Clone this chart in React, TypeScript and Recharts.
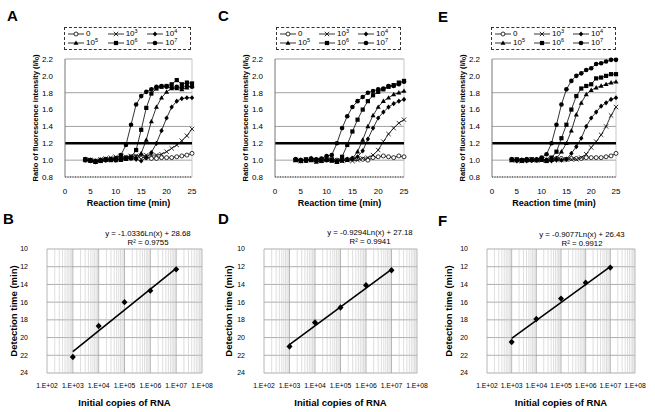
import React from 'react';
import {
  LineChart,
  Line,
  XAxis,
  YAxis,
  CartesianGrid,
  ReferenceLine,
  ComposedChart,
  Scatter,
} from 'recharts';

const FONT = '"Liberation Sans", Arial, Helvetica, sans-serif';

// reaction time (min) for the real-time curves
const times = [4, 5, 6, 7, 8, 9, 10, 11, 12, 13, 14, 15, 16, 17, 18, 19, 20, 21, 22, 23, 24, 25];

// legend / series order: 0, 10^3 ... 10^7
const seriesKeys = ['s0', 's3', 's4', 's5', 's6', 's7'];
const seriesExps = ['', '3', '4', '5', '6', '7'];
const seriesShapes = ['openCircle', 'cross', 'diamond', 'triangle', 'square', 'circle'];

// panel A
const a0 = [1.01, 1.0, 0.99, 1.0, 1.01, 1.01, 1.02, 1.03, 1.03, 1.04, 1.04, 1.04, 1.03, 1.02, 1.02, 1.03, 1.03, 1.03, 1.04, 1.05, 1.06, 1.08];
const a3 = [1.01, 1.0, 0.99, 1.01, 1.02, 1.03, 1.04, 1.05, 1.04, 1.05, 1.05, 1.05, 1.06, 1.06, 1.06, 1.07, 1.1, 1.14, 1.18, 1.23, 1.29, 1.37];
const a4 = [1.0, 0.99, 0.98, 1.0, 1.0, 1.01, 1.0, 1.01, 1.02, 1.02, 1.01, 0.99, 1.03, 1.09, 1.2, 1.35, 1.5, 1.63, 1.7, 1.73, 1.74, 1.74];
const a5 = [1.01, 0.99, 0.98, 0.99, 1.0, 1.0, 1.01, 1.0, 1.01, 1.02, 1.03, 1.08, 1.24, 1.46, 1.63, 1.74, 1.81, 1.85, 1.85, 1.84, 1.86, 1.88];
const a6 = [1.0, 1.0, 0.98, 0.99, 1.01, 1.0, 1.0, 1.01, 1.02, 1.03, 1.12, 1.36, 1.62, 1.79, 1.85, 1.87, 1.88, 1.9, 1.95, 1.9, 1.92, 1.91];
const a7 = [1.01, 1.0, 0.99, 1.0, 1.0, 1.01, 1.02, 1.06, 1.18, 1.42, 1.66, 1.76, 1.81, 1.84, 1.87, 1.88, 1.87, 1.86, 1.87, 1.86, 1.88, 1.87];

// panel C
const c0 = [1.01, 1.0, 1.0, 1.01, 1.0, 1.01, 1.0, 1.01, 1.0, 1.01, 1.01, 1.02, 1.02, 1.01, 1.0, 1.03, 1.04, 1.05, 1.04, 1.03, 1.05, 1.04];
const c3 = [1.0, 0.99, 1.0, 1.01, 1.0, 1.0, 1.02, 1.01, 1.0, 0.99, 1.0, 0.99, 1.0, 1.02, 1.03, 1.06, 1.12, 1.22, 1.31, 1.38, 1.44, 1.48];
const c4 = [1.01, 0.99, 1.0, 1.02, 1.01, 1.0, 1.01, 1.0, 0.99, 1.0, 1.01, 1.02, 1.04, 1.11, 1.25, 1.38, 1.5, 1.57, 1.63, 1.67, 1.7, 1.72];
const c5 = [1.0, 1.0, 0.99, 1.0, 0.98, 0.99, 1.0, 0.99, 0.98, 0.99, 1.0, 1.02, 1.1, 1.24, 1.4, 1.53, 1.63, 1.7, 1.74, 1.78, 1.8, 1.82];
const c6 = [1.0, 0.99, 1.01, 1.0, 1.0, 0.99, 1.01, 1.0, 0.98, 1.04, 1.18, 1.34, 1.48, 1.6, 1.7, 1.77, 1.81, 1.84, 1.87, 1.89, 1.92, 1.94];
const c7 = [1.01, 1.0, 1.0, 1.02, 1.01, 1.02, 1.05, 1.06, 1.2, 1.38, 1.52, 1.63, 1.7, 1.75, 1.8, 1.82, 1.84, 1.85, 1.88, 1.88, 1.9, 1.93];

// panel E
const e0 = [1.01, 1.0, 1.0, 1.01, 1.0, 1.0, 1.01, 1.0, 1.01, 1.02, 1.02, 1.01, 1.02, 1.02, 1.02, 1.03, 1.03, 1.03, 1.03, 1.04, 1.05, 1.08];
const e3 = [1.0, 1.0, 0.99, 1.0, 1.01, 1.0, 1.0, 1.01, 1.02, 1.01, 1.0, 1.01, 1.01, 1.01, 1.03, 1.07, 1.15, 1.22, 1.3, 1.4, 1.53, 1.63];
const e4 = [1.01, 0.99, 1.0, 0.99, 1.0, 1.0, 1.01, 1.0, 0.99, 1.0, 1.0, 1.01, 1.08, 1.16, 1.26, 1.4, 1.5, 1.57, 1.64, 1.68, 1.72, 1.74];
const e5 = [1.0, 1.0, 0.99, 1.0, 1.0, 1.01, 1.0, 0.99, 1.0, 1.02, 1.1, 1.2, 1.35, 1.54, 1.68, 1.78, 1.83, 1.86, 1.88, 1.9, 1.92, 1.93];
const e6 = [1.0, 1.01, 1.0, 1.0, 1.01, 1.0, 1.01, 0.99, 1.03, 1.1, 1.26, 1.42, 1.6, 1.76, 1.85, 1.88, 1.9, 1.97, 1.98, 2.0, 2.02, 2.02];
const e7 = [1.01, 1.0, 1.0, 1.01, 1.0, 1.01, 1.03, 1.07, 1.2, 1.42, 1.66, 1.84, 1.94, 2.0, 2.03, 2.07, 2.09, 2.14, 2.15, 2.17, 2.19, 2.19];

const ratioTicks = [0.8, 1.0, 1.2, 1.4, 1.6, 1.8, 2.0, 2.2];
const timeTicks = [0, 5, 10, 15, 20, 25];

// standard curves
const copies = [1e3, 1e4, 1e5, 1e6, 1e7];
const detB = [22.2, 18.7, 16.0, 14.7, 12.3];
const detD = [21.0, 18.3, 16.6, 14.1, 12.4];
const detF = [20.5, 17.9, 15.6, 13.8, 12.1];
const trendX = [1e3, 1e7];
const trendB = [21.6, 12.2];
const trendD = [20.8, 12.3];
const trendF = [20.1, 12.0];

const copyTicks = [1e2, 1e3, 1e4, 1e5, 1e6, 1e7, 1e8];
const detTicks = [10, 12, 14, 16, 18, 20, 22, 24];

// minor log gridlines 2..9 x 10^n
const minorTicks: number[] = [];
for (let e = 2; e < 8; e++) for (let m = 2; m < 10; m++) minorTicks.push(m * Math.pow(10, e));

const buildRows = (cols: number[][]) =>
  times.map((t, i) => {
    const row: any = { t };
    seriesKeys.forEach((k, j) => (row[k] = cols[j][i]));
    return row;
  });

const rowsA = buildRows([a0, a3, a4, a5, a6, a7]);
const rowsC = buildRows([c0, c3, c4, c5, c6, c7]);
const rowsE = buildRows([e0, e3, e4, e5, e6, e7]);

function Marker({ shape, cx, cy }: { shape: string; cx: number; cy: number }) {
  if (cx == null || cy == null) return null;
  switch (shape) {
    case 'openCircle':
      return <circle cx={cx} cy={cy} r={2} fill="#fff" stroke="#000" strokeWidth={0.8} />;
    case 'cross':
      return (
        <g stroke="#000" strokeWidth={0.8}>
          <line x1={cx - 2.2} y1={cy - 2.2} x2={cx + 2.2} y2={cy + 2.2} />
          <line x1={cx - 2.2} y1={cy + 2.2} x2={cx + 2.2} y2={cy - 2.2} />
        </g>
      );
    case 'diamond':
      return <polygon points={`${cx},${cy - 2.6} ${cx + 2.2},${cy} ${cx},${cy + 2.6} ${cx - 2.2},${cy}`} fill="#000" />;
    case 'triangle':
      return <polygon points={`${cx},${cy - 2.6} ${cx + 2.5},${cy + 1.8} ${cx - 2.5},${cy + 1.8}`} fill="#000" />;
    case 'square':
      return <rect x={cx - 2.1} y={cy - 2.1} width={4.2} height={4.2} fill="#000" />;
    default:
      return <circle cx={cx} cy={cy} r={2.3} fill="#000" />;
  }
}

const tickStyle = { fontSize: 8, fill: '#000', fontFamily: FONT };

function ratioTitle(props: any) {
  const vb = props.viewBox;
  const x = vb.x + vb.width - 30;
  const y = vb.y + vb.height / 2;
  return (
    <text
      x={x}
      y={y}
      transform={`rotate(-90 ${x} ${y})`}
      textAnchor="middle"
      dominantBaseline="central"
      fontFamily={FONT}
      fontSize={7.6}
      fontWeight="bold"
      fill="#000"
    >
      Ratio of fluorescence intensity (I/I
      <tspan fontSize={5.5} dy={1.8}>0</tspan>
      <tspan dy={-1.8}>)</tspan>
    </text>
  );
}

function detTitle(props: any) {
  const vb = props.viewBox;
  const x = vb.x + 13.5;
  const y = vb.y + vb.height / 2;
  return (
    <text
      x={x}
      y={y}
      transform={`rotate(-90 ${x} ${y})`}
      textAnchor="middle"
      dominantBaseline="central"
      fontFamily={FONT}
      fontSize={9.5}
      fontWeight="bold"
      fill="#000"
    >
      Detection time (min)
    </text>
  );
}

function LegendBox({ left, width }: { left: number; width: number }) {
  return (
    <div
      style={{
        position: 'absolute',
        left,
        top: 27,
        width,
        height: 23,
        boxSizing: 'border-box',
        border: '1px dashed #333',
        fontFamily: FONT,
        fontSize: 8,
        lineHeight: 1,
        display: 'grid',
        gridTemplateColumns: 'repeat(3, 1fr)',
        gridTemplateRows: 'repeat(2, 1fr)',
        alignItems: 'center',
        padding: '1px 3px',
      }}
    >
      {seriesShapes.map((s, i) => (
        <div key={s} style={{ display: 'flex', alignItems: 'center' }}>
          <svg width={16} height={8}>
            <line x1={0} y1={4} x2={16} y2={4} stroke="#000" strokeWidth={0.8} />
            <Marker shape={s} cx={8} cy={4} />
          </svg>
          <span style={{ marginLeft: 2 }}>
            {i === 0 ? (
              '0'
            ) : (
              <>
                10<span style={{ fontSize: 5.5, position: 'relative', top: -3 }}>{seriesExps[i]}</span>
              </>
            )}
          </span>
        </div>
      ))}
    </div>
  );
}

function CurvePanel({ left, width, axisWidth, rows }: { left: number; width: number; axisWidth: number; rows: any[] }) {
  return (
    <div style={{ position: 'absolute', left, top: 0 }}>
      <LineChart width={width} height={215} data={rows} margin={{ top: 59, right: 8, bottom: 0, left: 0 }}>
        <CartesianGrid vertical={false} stroke="#8a8a8a" strokeWidth={0.8} />
        <XAxis
          dataKey="t"
          type="number"
          domain={[0, 25]}
          ticks={timeTicks}
          height={38}
          tick={tickStyle}
          tickLine={false}
          tickMargin={5}
          axisLine={{ stroke: '#333', strokeDasharray: '1 1.5' }}
          label={{
            value: 'Reaction time (min)',
            position: 'insideBottom',
            offset: 9,
            style: { fontSize: 9, fontWeight: 'bold', fill: '#000', fontFamily: FONT },
          }}
        />
        <YAxis
          type="number"
          domain={[0.8, 2.2]}
          ticks={ratioTicks}
          tickFormatter={(v: number) => v.toFixed(1)}
          width={axisWidth}
          tick={tickStyle}
          tickLine={false}
          tickMargin={6}
          axisLine={{ stroke: '#777' }}
          label={{ content: ratioTitle }}
        />
        <ReferenceLine x={25} stroke="#bbb" strokeWidth={0.8} />
        <ReferenceLine y={1.2} stroke="#000" strokeWidth={2.5} />
        {seriesKeys.map((k, j) => (
          <Line
            key={k}
            dataKey={k}
            type="linear"
            stroke="#000"
            strokeWidth={0.8}
            isAnimationActive={false}
            activeDot={false}
            dot={(p: any) => <Marker key={`${k}-${p.index}`} shape={seriesShapes[j]} cx={p.cx} cy={p.cy} />}
          />
        ))}
      </LineChart>
    </div>
  );
}

function StandardPanel({
  left,
  width,
  axisWidth,
  det,
  trend,
}: {
  left: number;
  width: number;
  axisWidth: number;
  det: number[];
  trend: number[];
}) {
  const points = copies.map((x, i) => ({ x, y: det[i] }));
  const trendRows = trendX.map((x, i) => ({ x, y: trend[i] }));
  const fmt = (v: number) => `1.E+${String(Math.round(Math.log10(v))).padStart(2, '0')}`;
  return (
    <div style={{ position: 'absolute', left, top: 200 }}>
      <ComposedChart width={width} height={212} margin={{ top: 49, right: 16, bottom: 0, left: 0 }}>
        {minorTicks.map((v) => (
          <ReferenceLine key={`m${v}`} x={v} stroke="#c8c8c8" strokeWidth={0.6} />
        ))}
        {copyTicks.map((v) => (
          <ReferenceLine key={`d${v}`} x={v} stroke="#9a9a9a" strokeWidth={0.7} />
        ))}
        <CartesianGrid vertical={false} stroke="#8a8a8a" strokeWidth={0.7} />
        <XAxis
          dataKey="x"
          type="number"
          scale="log"
          domain={[1e2, 1e8]}
          ticks={copyTicks}
          interval={0}
          tickFormatter={fmt}
          height={39}
          tick={{ ...tickStyle, fontSize: 6.8 }}
          tickLine={false}
          axisLine={false}
          tickMargin={4}
          allowDataOverflow
          label={{
            value: 'Initial copies of RNA',
            position: 'insideBottom',
            offset: 6,
            style: { fontSize: 9.5, fontWeight: 'bold', fill: '#000', fontFamily: FONT },
          }}
        />
        <YAxis
          type="number"
          reversed
          domain={[10, 24]}
          ticks={detTicks}
          interval={0}
          width={axisWidth}
          tick={{ ...tickStyle, fontSize: 7 }}
          tickLine={false}
          axisLine={false}
          tickMargin={13}
          label={{ content: detTitle }}
        />
        <Line data={trendRows} dataKey="y" type="linear" stroke="#000" strokeWidth={1.6} dot={false} activeDot={false} isAnimationActive={false} />
        <Scatter
          data={points}
          dataKey="y"
          isAnimationActive={false}
          shape={(p: any) => (
            <polygon points={`${p.cx},${p.cy - 3.2} ${p.cx + 3},${p.cy} ${p.cx},${p.cy + 3.2} ${p.cx - 3},${p.cy}`} fill="#000" />
          )}
        />
      </ComposedChart>
    </div>
  );
}

function Letter({ text, left, top }: { text: string; left: number; top: number }) {
  return (
    <div style={{ position: 'absolute', left, top, fontFamily: FONT, fontWeight: 'bold', fontSize: 15, lineHeight: 1 }}>{text}</div>
  );
}

function Equation({ center, top, eq, r2 }: { center: number; top: number; eq: string; r2: string }) {
  return (
    <div
      style={{
        position: 'absolute',
        left: center - 60,
        top,
        width: 120,
        textAlign: 'center',
        fontFamily: FONT,
        fontSize: 7.8,
        lineHeight: '8.5px',
      }}
    >
      <div>{eq}</div>
      <div>{r2}</div>
    </div>
  );
}

export default function App() {
  return (
    <div style={{ position: 'absolute', left: 0, top: 0, width: 655, height: 412, background: '#fff', overflow: 'hidden' }}>
      <Letter text="A" left={7} top={8} />
      <Letter text="C" left={218} top={8} />
      <Letter text="E" left={438} top={9} />
      <Letter text="B" left={3} top={211} />
      <Letter text="D" left={218} top={211} />
      <Letter text="F" left={438} top={213} />

      <LegendBox left={64} width={127} />
      <LegendBox left={276} width={125} />
      <LegendBox left={491} width={125} />

      <CurvePanel left={0} width={200} axisWidth={65} rows={rowsA} />
      <CurvePanel left={215} width={197} axisWidth={60} rows={rowsC} />
      <CurvePanel left={435} width={189} axisWidth={57} rows={rowsE} />

      <StandardPanel left={0} width={218} axisWidth={47} det={detB} trend={trendB} />
      <StandardPanel left={215} width={218} axisWidth={49} det={detD} trend={trendD} />
      <StandardPanel left={435} width={216} axisWidth={52} det={detF} trend={trendF} />

      <Equation center={148} top={230} eq="y = -1.0336Ln(x) + 28.68" r2="R² = 0.9755" />
      <Equation center={370} top={229} eq="y = -0.9294Ln(x) + 27.18" r2="R² = 0.9941" />
      <Equation center={582} top={231} eq="y = -0.9077Ln(x) + 26.43" r2="R² = 0.9912" />
    </div>
  );
}
